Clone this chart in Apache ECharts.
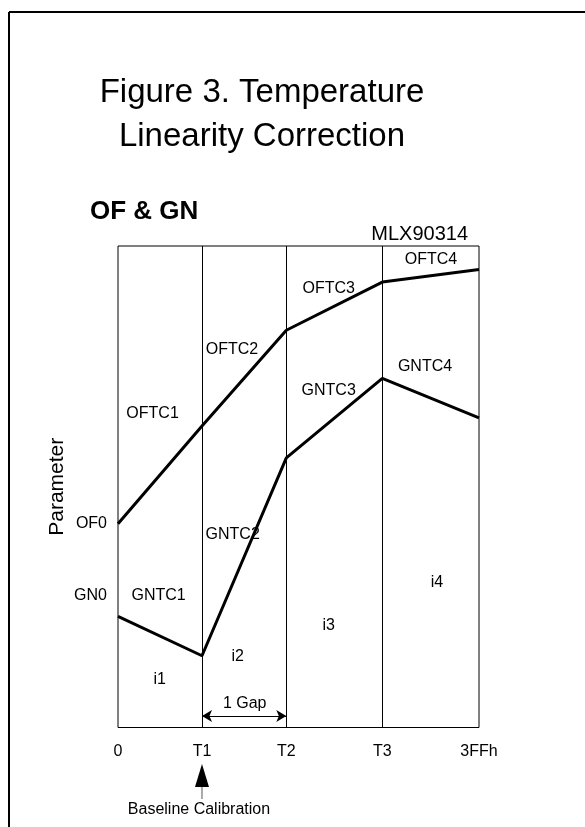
<!DOCTYPE html>
<html>
<head>
<meta charset="utf-8">
<script src="https://cdn.jsdelivr.net/npm/echarts@6/dist/echarts.min.js"></script>
<style>
html,body{margin:0;padding:0;background:#fff;}
#chart{width:585px;height:827px;}
</style>
</head>
<body>
<div id="chart"></div>
<script>
// x positions in code units (0 .. 3FFh = 1023)
const xTicks = [0, 238, 477, 749, 1023];
const xTickLabels = ['0', 'T1', 'T2', 'T3', '3FFh'];
// parameter values (relative scale 0..100)
const ofValues = [42.3, 62.6, 82.5, 92.5, 95.1];
const gnValues = [23.1, 14.9, 56.0, 72.5, 64.3];
const yLabelValues = [42.3, 27.4];
const yLabels = ['OF0', 'GN0'];
// in-plot annotations (data coordinates)
const annText = ['OFTC1', 'OFTC2', 'OFTC3', 'OFTC4', 'GNTC1', 'GNTC2', 'GNTC3', 'GNTC4', 'i1', 'i2', 'i3', 'i4', '1 Gap'];
const annX = [98, 323, 597, 887, 115, 325, 597, 870, 118, 339, 597, 904, 359];
const annY = [65.2, 78.5, 91.2, 97.2, 27.4, 40.0, 70.0, 75.0, 9.9, 14.7, 21.1, 30.1, 4.9];
const gapY = 2.4;

const FONT = '"Liberation Sans", Arial, sans-serif';
const chart = echarts.init(document.getElementById('chart'));

const ofData = xTicks.map((x, i) => [x, ofValues[i]]);
const gnData = xTicks.map((x, i) => [x, gnValues[i]]);
const annData = annText.map((t, i) => [annX[i], annY[i], t]);

chart.setOption({
  animation: false,
  backgroundColor: '#fff',
  grid: { left: 118, top: 246, width: 361, height: 481.5, show: true, borderColor: '#000', borderWidth: 1, containLabel: false },
  xAxis: {
    type: 'value', min: 0, max: 1023,
    axisLine: { show: false }, axisTick: { show: false }, splitLine: { show: false },
    axisLabel: {
      customValues: xTicks, margin: 16, color: '#000', fontSize: 16, fontFamily: FONT,
      formatter: v => xTickLabels[xTicks.indexOf(v)]
    }
  },
  yAxis: {
    type: 'value', min: 0, max: 100,
    name: 'Parameter', nameLocation: 'middle', nameGap: 50, nameRotate: 90, nameMoveOverlap: false,
    nameTextStyle: { color: '#000', fontSize: 21, fontFamily: FONT },
    axisLine: { show: false }, axisTick: { show: false }, splitLine: { show: false },
    axisLabel: {
      customValues: yLabelValues, margin: 11, color: '#000', fontSize: 16, fontFamily: FONT,
      formatter: v => yLabels[yLabelValues.indexOf(v)]
    }
  },
  series: [
    {
      type: 'line', data: ofData, symbol: 'none', lineStyle: { color: '#000', width: 3 },
      markLine: {
        silent: true, symbol: 'none', label: { show: false },
        lineStyle: { color: '#000', width: 1, type: 'solid' },
        data: xTicks.slice(1, 4).map(x => ({ xAxis: x }))
      }
    },
    {
      type: 'line', data: gnData, symbol: 'none', lineStyle: { color: '#000', width: 3 },
      markLine: {
        silent: true, symbol: ['arrow', 'arrow'], symbolSize: [9, 10], label: { show: false },
        lineStyle: { color: '#000', width: 1, type: 'solid' },
        data: [[{ coord: [xTicks[1], gapY] }, { coord: [xTicks[2], gapY] }]]
      }
    },
    {
      type: 'scatter', data: annData, symbolSize: 0, silent: true,
      itemStyle: { opacity: 1 },
      label: {
        show: true, position: 'inside', color: '#000', fontSize: 16, fontFamily: FONT,
        formatter: p => p.data[2]
      }
    }
  ]
});

const t1px = chart.convertToPixel({ xAxisIndex: 0 }, xTicks[1]);
chart.setOption({
  graphic: [
    { type: 'line', shape: { x1: 9, y1: 12, x2: 9, y2: 827 }, style: { stroke: '#000', lineWidth: 2 } },
    { type: 'line', shape: { x1: 9, y1: 12, x2: 585, y2: 12 }, style: { stroke: '#000', lineWidth: 2 } },
    { type: 'text', x: 262, y: 93, style: { text: 'Figure 3. Temperature', font: '33px ' + FONT, fill: '#000', textAlign: 'center', textVerticalAlign: 'middle' } },
    { type: 'text', x: 262, y: 137, style: { text: 'Linearity Correction', font: '33px ' + FONT, fill: '#000', textAlign: 'center', textVerticalAlign: 'middle' } },
    { type: 'text', x: 90, y: 212, style: { text: 'OF & GN', font: 'bold 26px ' + FONT, fill: '#000', textAlign: 'left', textVerticalAlign: 'middle' } },
    { type: 'text', x: 468, y: 234, style: { text: 'MLX90314', font: '20px ' + FONT, fill: '#000', textAlign: 'right', textVerticalAlign: 'middle' } },
    { type: 'polygon', shape: { points: [[t1px, 764], [t1px - 7, 787], [t1px + 7, 787]] }, style: { fill: '#000' } },
    { type: 'line', shape: { x1: t1px, y1: 787, x2: t1px, y2: 799 }, style: { stroke: '#555', lineWidth: 1 } },
    { type: 'text', x: t1px - 3, y: 810, style: { text: 'Baseline Calibration', font: '16px ' + FONT, fill: '#000', textAlign: 'center', textVerticalAlign: 'middle' } }
  ]
});
</script>
</body>
</html>
